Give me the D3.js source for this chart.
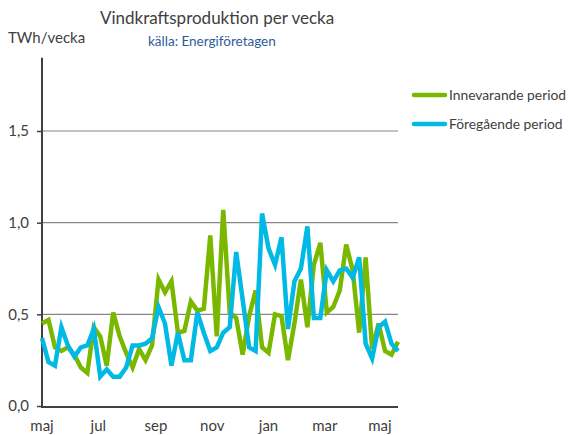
<!DOCTYPE html>
<html>
<head>
<meta charset="utf-8">
<script src="https://cdn.jsdelivr.net/npm/d3@7"></script>
<style>
  body { margin: 0; background: #fff; }
  text { font-family: Lato, "Open Sans", sans-serif; fill: #404040; }
</style>
</head>
<body>
<svg id="chart" width="568" height="435"></svg>
<script>
// veckovärden, TWh
var innevarande = [0.45, 0.47, 0.32, 0.30, 0.32, 0.28, 0.21, 0.18, 0.43, 0.38,
  0.22, 0.51, 0.38, 0.29, 0.21, 0.31, 0.25, 0.33, 0.69, 0.62,
  0.68, 0.40, 0.41, 0.57, 0.52, 0.53, 0.93, 0.38, 1.07, 0.51,
  0.48, 0.28, 0.49, 0.63, 0.32, 0.29, 0.50, 0.49, 0.25, 0.45,
  0.69, 0.43, 0.77, 0.89, 0.51, 0.54, 0.63, 0.88, 0.74, 0.40,
  0.81, 0.31, 0.45, 0.30, 0.28, 0.35];

var foregaende = [0.37, 0.24, 0.22, 0.43, 0.33, 0.27, 0.32, 0.33, 0.42, 0.16,
  0.20, 0.16, 0.16, 0.21, 0.33, 0.33, 0.34, 0.37, 0.54, 0.45,
  0.22, 0.40, 0.25, 0.25, 0.51, 0.40, 0.30, 0.32, 0.40, 0.43,
  0.84, 0.58, 0.32, 0.30, 1.05, 0.86, 0.77, 0.92, 0.42, 0.68,
  0.75, 0.98, 0.48, 0.48, 0.74, 0.68, 0.74, 0.75, 0.70, 0.81,
  0.34, 0.26, 0.43, 0.46, 0.34, 0.30];

var manader = ["maj", "jul", "sep", "nov", "jan", "mar", "maj"];
var manadVecka = [0, 8.7, 17.6, 26.3, 35, 43.7, 52.2];
var yTicks = [0, 0.5, 1.0, 1.5];

var serier = [
  {namn: "Innevarande period", varden: innevarande, farg: "#7ab800"},
  {namn: "Föregående period", varden: foregaende, farg: "#00b9e4"}
];

var svg = d3.select("#chart");

var x = d3.scaleLinear()
    .domain([0, innevarande.length - 1])
    .range([42, 398]);

var y = d3.scaleLinear()
    .domain([0, 1.5])
    .range([406, 131]);

var komma = function(d) { return d3.format(".1f")(d).replace(".", ","); };

// stödlinjer
svg.append("g")
  .selectAll("line")
  .data(yTicks.filter(function(d) { return d > 0; }))
  .enter().append("line")
    .attr("x1", x(0))
    .attr("x2", x(innevarande.length - 1))
    .attr("y1", function(d) { return y(d); })
    .attr("y2", function(d) { return y(d); })
    .attr("stroke", "#868686")
    .attr("stroke-width", 1.2);

// y-axel
var yAxis = svg.append("g")
    .attr("transform", "translate(42,0)")
    .call(d3.axisLeft(y).tickValues(yTicks).tickFormat(komma).tickSize(5).tickPadding(8));
yAxis.select(".domain").remove();
yAxis.selectAll(".tick line").attr("stroke", "#404040").attr("stroke-width", 1.5);
yAxis.selectAll(".tick text").attr("font-size", 15).attr("fill", "#404040")
    .style("font-family", "Lato, 'Open Sans', sans-serif");
svg.append("line")
    .attr("x1", 42).attr("x2", 42)
    .attr("y1", y(1.9)).attr("y2", y(0) + 1)
    .attr("stroke", "#404040").attr("stroke-width", 2);

// x-axel
svg.append("line")
    .attr("x1", 41).attr("x2", x(innevarande.length - 1))
    .attr("y1", y(0) + 1).attr("y2", y(0) + 1)
    .attr("stroke", "#404040").attr("stroke-width", 2);

svg.append("g")
  .selectAll("text")
  .data(manader)
  .enter().append("text")
    .attr("x", function(d, i) { return x(manadVecka[i]); })
    .attr("y", 431)
    .attr("text-anchor", "middle")
    .attr("font-size", 15)
    .text(function(d) { return d; });

// linjer
var line = d3.line()
    .x(function(d, i) { return x(i); })
    .y(function(d) { return y(d); });

svg.append("g")
  .selectAll("path")
  .data(serier)
  .enter().append("path")
    .attr("d", function(d) { return line(d.varden); })
    .attr("fill", "none")
    .attr("stroke", function(d) { return d.farg; })
    .attr("stroke-width", 4.5)
    .attr("stroke-linejoin", "miter");

// legend
var legend = svg.append("g")
  .selectAll("g")
  .data(serier)
  .enter().append("g")
    .attr("transform", function(d, i) { return "translate(414," + (95 + i * 29) + ")"; });

legend.append("line")
    .attr("x1", 0).attr("x2", 31)
    .attr("stroke", function(d) { return d.farg; })
    .attr("stroke-width", 4.5)
    .attr("stroke-linecap", "round");

legend.append("text")
    .attr("x", 35)
    .attr("y", 5)
    .attr("font-size", 13.8)
    .text(function(d) { return d.namn; });

// titlar
svg.append("text")
    .attr("x", 100).attr("y", 24)
    .attr("font-size", 17)
    .text("Vindkraftsproduktion per vecka");

svg.append("text")
    .attr("x", 8).attr("y", 43)
    .attr("font-size", 15)
    .text("TWh/vecka");

svg.append("text")
    .attr("x", 148).attr("y", 46)
    .attr("font-size", 13.5)
    .style("fill", "#2e5b9a")
    .text("källa: Energiföretagen");
</script>
</body>
</html>
